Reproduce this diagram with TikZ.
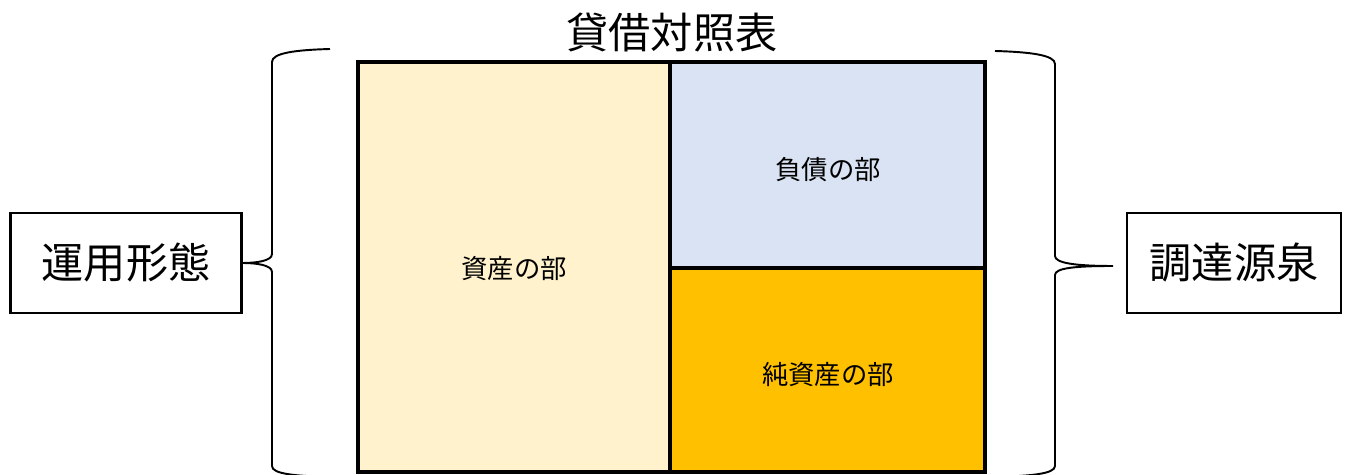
\documentclass[tikz,border=0pt]{standalone}
\usepackage{fontspec}
\setmainfont{Noto Sans CJK JP}
\usetikzlibrary{positioning}
\definecolor{assetfill}{HTML}{FFF2CC}
\definecolor{debtfill}{HTML}{DAE3F3}
\definecolor{equityfill}{HTML}{FFC000}
\tikzset{sidebox/.style = {draw, line width=1.2pt, minimum width=4.62cm,
                           minimum height=2cm, font=\fontsize{24}{28}\selectfont}}
\tikzset{part/.style = {font=\fontsize{15}{18}\selectfont}}
\tikzset{brace/.style = {line width=1.1pt}}
\tikzset{frame/.style = {line width=2.2pt}}

\begin{document}
\begin{tikzpicture}[x=0.02cm, y=-0.02cm]
      \useasboundingbox (0, 0) rectangle (1349, 475);

      \fill [assetfill] (358, 62) rectangle (670, 472);
      \fill [debtfill] (670, 62) rectangle (985, 268);
      \fill [equityfill] (670, 268) rectangle (985, 472);
      \draw [frame] (358, 62) rectangle (985, 472);
      \draw [frame] (670, 62) -- (670, 472);
      \draw [frame] (670, 268) -- (985, 268);

      \node [font=\fontsize{24}{28}\selectfont] (title) at (672, 33) {貸借対照表};
      \node [part] (asset) at (514, 269) {資産の部};
      \node [part] (debt) at (828, 170) {負債の部};
      \node [part] (equity) at (828, 375) {純資産の部};

      \node [sidebox] (lbox) at (126, 263) {運用形態};
      \node [sidebox, minimum width=4.28cm] (rbox) at (1234, 263) {調達源泉};

      \draw [brace] (330, 49) .. controls (295, 50) and (272, 53) .. (272, 62)
        -- (272, 254) .. controls (272, 261) and (256, 263) .. (lbox.east)
        .. controls (256, 263) and (272, 265) .. (272, 272)
        -- (272, 466) .. controls (272, 474) and (295, 476) .. (330, 477);

      \coordinate (rtip) at (1113, 266);
      \draw [brace] (995, 51) .. controls (1030, 52) and (1055, 55) .. (1055, 64)
        -- (1055, 256) .. controls (1055, 263) and (1075, 266) .. (rtip)
        .. controls (1075, 266) and (1055, 268) .. (1055, 275)
        -- (1055, 466) .. controls (1055, 474) and (1030, 476) .. (995, 477);
    \end{tikzpicture}
\end{document}
